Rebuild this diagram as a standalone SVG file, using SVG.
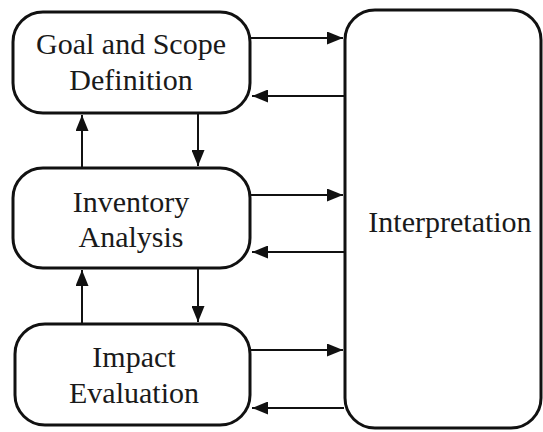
<svg xmlns="http://www.w3.org/2000/svg" width="543" height="432" viewBox="0 0 543 432">
<style>
.box{fill:#fff;stroke:#111;stroke-width:3}
.lbl{font-family:"Liberation Serif","Times New Roman",serif;font-size:30px;fill:#1a1a1a;text-anchor:middle}
.con{stroke:#111;stroke-width:2;fill:none;marker-end:url(#ah)}
</style>
<defs>
<marker id="ah" markerWidth="16" markerHeight="13" refX="16" refY="6.5" orient="auto" markerUnits="userSpaceOnUse">
<path d="M0,0 L16,6.5 L0,13 Z" fill="#111"/>
</marker>
</defs>
<rect width="543" height="432" fill="#fff"/>
<g id="goal">
<rect class="box" x="13" y="12" width="237" height="101" rx="30"/>
<text class="lbl" x="131" y="54">Goal and Scope</text>
<text class="lbl" x="131" y="90">Definition</text>
</g>
<g id="inventory">
<rect class="box" x="13" y="168" width="237" height="100" rx="30"/>
<text class="lbl" x="131" y="212">Inventory</text>
<text class="lbl" x="131" y="247">Analysis</text>
</g>
<g id="impact">
<rect class="box" x="15" y="324" width="235" height="101" rx="30"/>
<text class="lbl" x="134" y="367">Impact</text>
<text class="lbl" x="134" y="403">Evaluation</text>
</g>
<g id="interpretation">
<rect class="box" x="345" y="10" width="196" height="418" rx="30"/>
<text class="lbl" x="450" y="232">Interpretation</text>
</g>
<g id="connectors">
<line class="con" x1="251" y1="38" x2="343" y2="38"/>
<line class="con" x1="344" y1="96" x2="252" y2="96"/>
<line class="con" x1="251" y1="195" x2="343" y2="195"/>
<line class="con" x1="344" y1="252" x2="252" y2="252"/>
<line class="con" x1="251" y1="350" x2="343" y2="350"/>
<line class="con" x1="344" y1="408" x2="252" y2="408"/>
<line class="con" x1="82" y1="167" x2="82" y2="115"/>
<line class="con" x1="198" y1="114" x2="198" y2="166"/>
<line class="con" x1="82" y1="323" x2="82" y2="270"/>
<line class="con" x1="198" y1="269" x2="198" y2="322"/>
</g>
</svg>
